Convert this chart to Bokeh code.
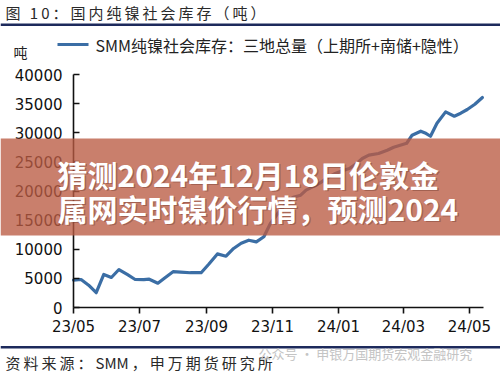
import pandas as pd
from bokeh.plotting import figure
from bokeh.models import Range1d, FixedTicker, Label, BoxAnnotation, ColumnDataSource, DatetimeTickFormatter
from bokeh.embed import file_html
from bokeh.resources import INLINE

# ---------------- data ----------------
dates = [
    "2023-05-01", "2023-05-08", "2023-05-15", "2023-05-22", "2023-05-29", "2023-06-05",
    "2023-06-12", "2023-06-20", "2023-06-27", "2023-07-05", "2023-07-10", "2023-07-18",
    "2023-07-24", "2023-08-01", "2023-08-08", "2023-08-17", "2023-08-27", "2023-09-03",
    "2023-09-11", "2023-09-19", "2023-09-26", "2023-10-03", "2023-10-10", "2023-10-17",
    "2023-10-24", "2023-10-30", "2023-11-06", "2023-11-15", "2023-11-20", "2023-11-27",
    "2023-12-02", "2023-12-08", "2023-12-15", "2023-12-23", "2023-12-29", "2024-01-04",
    "2024-01-11", "2024-01-17", "2024-01-23", "2024-01-29", "2024-02-07", "2024-02-15",
    "2024-02-21", "2024-02-27", "2024-03-04", "2024-03-09", "2024-03-17", "2024-03-21",
    "2024-03-26", "2024-04-01", "2024-04-09", "2024-04-17", "2024-04-23", "2024-04-29",
    "2024-05-06", "2024-05-13",
]
stock = [
    4690, 4810, 3830, 2540, 5670, 5150,
    6520, 5630, 4810, 4770, 4860, 4170,
    5030, 6150, 6060, 5970, 5970, 7430,
    9200, 8810, 10130, 11040, 11550, 11260,
    12150, 14420, 16190, 18130, 18940, 19280,
    20140, 20700, 21390, 22420, 23000, 23450,
    23860, 24600, 25580, 26150, 26440, 27000,
    27520, 27860, 28200, 29580, 30270, 29970,
    29400, 31640, 33580, 32840, 33360, 33990,
    34900, 36050,
]
x_tick_dates = ["2023-05-01", "2023-07-01", "2023-09-01", "2023-11-01",
                "2024-01-01", "2024-03-01", "2024-05-01"]
x_tick_labels = ["23/05", "23/07", "23/09", "23/11", "24/01", "24/03", "24/05"]
y_ticks = [0, 5000, 10000, 15000, 20000, 25000, 30000, 35000, 40000]
x_start, x_end = "2023-05-01", "2024-05-14"
y_min, y_max = 0, 40000

title_text = "图 10：国内纯镍社会库存（吨）"
legend_text = "SMM纯镍社会库存：三地总量（上期所+南储+隐性）"
unit_text = "吨"
source_parts = ["资料来源：", "SMM", "，申万期货研究所"]
watermark_text = "公众号 · 申银万国期货宏观金融研究"
banner_lines = ["猜测2024年12月18日伦敦金", "属网实时镍价行情，预测2024"]

# ---------------- layout ----------------
W, H = 500, 374
# pixel box of the axes area inside the canvas
AX_L, AX_R, AX_T, AX_B = 73, 483, 74, 307


def ms(d):
    return pd.Timestamp(d).value // 10**6


# the frame covers the whole canvas; ranges extended so the axes sit at AX_*
x0, x1 = ms(x_start), ms(x_end)
xs = (x1 - x0) / (AX_R - AX_L)
ys = (y_max - y_min) / (AX_B - AX_T)
xr = Range1d(x0 - AX_L * xs, x1 + (W - AX_R) * xs)
yr = Range1d(y_min - (H - AX_B) * ys, y_max + AX_T * ys)

src = ColumnDataSource(dict(date=pd.to_datetime(dates), stock=stock))

p = figure(width=W, height=H, x_axis_type="datetime", output_backend="svg",
           toolbar_location=None, min_border=0, x_range=xr, y_range=yr)
p.outline_line_color = None
p.grid.visible = False
p.background_fill_color = "white"
p.border_fill_color = "white"

p.line(x="date", y="stock", source=src, line_color="#3b6ea5", line_width=3.2,
       line_join="round", line_cap="round")

tick_ms = [ms(d) for d in x_tick_dates]
p.xaxis.ticker = FixedTicker(ticks=tick_ms)
p.xaxis.formatter = DatetimeTickFormatter(days="%y/%m", months="%y/%m", years="%y/%m")
p.xaxis.major_label_overrides = {t: lab for t, lab in zip(tick_ms, x_tick_labels)}
p.yaxis.ticker = FixedTicker(ticks=y_ticks)

p.xaxis.fixed_location = y_min
p.xaxis.bounds = (x0, x1)
p.yaxis.fixed_location = x0
p.yaxis.bounds = (y_min, y_max)

for ax in (p.xaxis[0], p.yaxis[0]):
    ax.axis_line_color = "#111111"
    ax.axis_line_width = 1.6
    ax.major_tick_line_color = "#111111"
    ax.major_tick_line_width = 1.6
    ax.minor_tick_line_color = None
    ax.major_label_text_font = "DejaVu Sans"
    ax.major_label_text_font_size = "15px"
    ax.major_label_text_color = "#111111"

p.xaxis.major_tick_in = 0
p.xaxis.major_tick_out = 6
p.xaxis.major_label_standoff = 4
p.yaxis.major_tick_in = 6
p.yaxis.major_tick_out = 0
p.yaxis.major_label_standoff = 11


# canvas pixel (from top-left) -> screen units (frame = canvas, y up)
def sx(px):
    return px


def sy(py):
    return H - py


def box(xa, xb, ya, yb, color, alpha=1.0, level="annotation"):
    p.add_layout(BoxAnnotation(left=sx(xa), right=sx(xb), top=sy(ya), bottom=sy(yb),
                               left_units="screen", right_units="screen",
                               top_units="screen", bottom_units="screen",
                               fill_color=color, fill_alpha=alpha, line_alpha=0,
                               level=level))


def label(px, py, text, size, color="#222222", font="Noto Sans CJK SC", align="left",
          style="normal", alpha=1.0, level="annotation"):
    p.add_layout(Label(x=sx(px), y=sy(py), x_units="screen", y_units="screen", text=text,
                       text_font=font, text_font_size=f"{size}px", text_color=color,
                       text_align=align, text_baseline="middle", text_font_style=style,
                       text_alpha=alpha, level=level))


TS = "\u2009"
# header
label(5, 12, TS.join(title_text), 15, color="#2a2a2a")
box(0, 500, 23, 25.5, "#1d2a5c")
box(57, 88, 42.6, 45.6, "#3b6ea5")
label(95, 44, legend_text, 16, color="#222222")
label(13, 51, unit_text, 14, color="#222222")

# footer
box(0, 500, 345.5, 348, "#1d2a5c")
src_txt = TS.join(source_parts[0]) + TS + source_parts[1] + TS + TS.join(source_parts[2])
label(5, 362, src_txt, 15, color="#2a2a2a")
label(258, 353, watermark_text, 13, color="#c4c4c4")

# banner overlay
box(0, 500, 138, 235, "#ba5b43", alpha=0.78, level="overlay")
for i, txt in enumerate(banner_lines):
    yc = 173 + i * 34
    label(58.5, yc + 1.5, txt, 30, color="#5a2a20", style="bold", alpha=0.35, level="overlay")
    label(57, yc, txt, 30, color="white", style="bold", level="overlay")

open("out.html", "w").write(file_html(p, INLINE))
